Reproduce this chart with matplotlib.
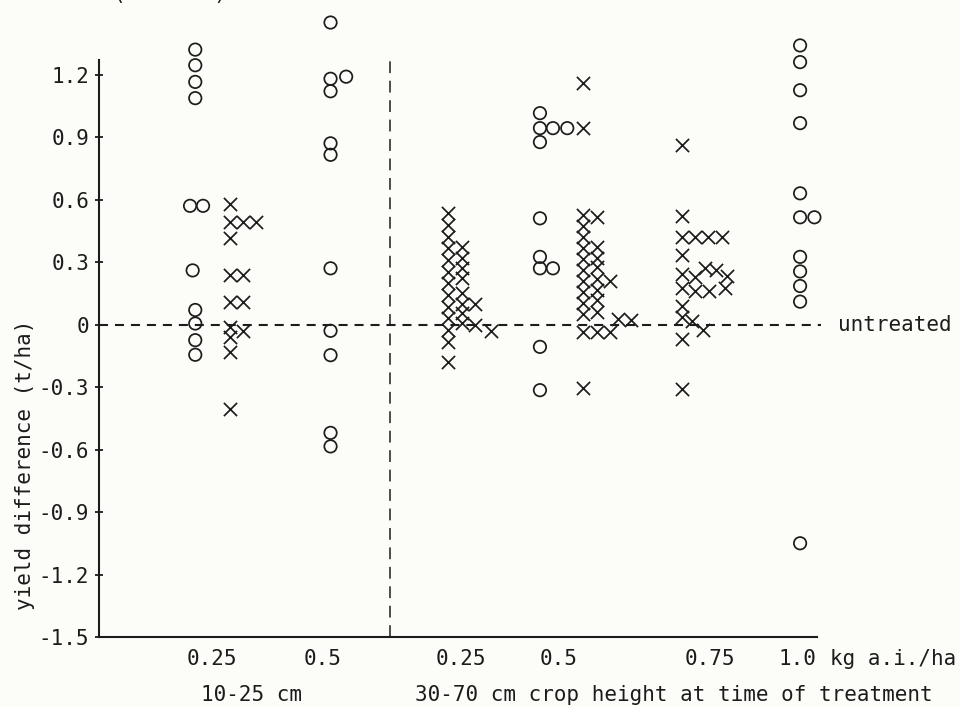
import matplotlib.pyplot as plt

plt.rcParams["font.family"] = ["DejaVu Sans Mono", "DejaVu Sans"]
plt.rcParams["lines.scale_dashes"] = False

INK = "#1c1c1c"
PAPER = "#fcfcf8"

# ---------------------------
# data (x = typewriter column from the y axis, y = yield difference t/ha)
# ---------------------------
circle_pos = [7.4, 7.4, 7.4, 7.4, 7.0, 8.0, 7.2, 7.4, 7.4, 7.4, 7.4,
              17.8, 17.8, 19.0, 17.8, 17.8, 17.8, 17.8, 17.8, 17.8, 17.8, 17.8,
              33.9, 33.9, 33.9, 34.9, 36.0, 33.9, 33.9, 33.9, 34.9, 33.9, 33.9,
              53.9, 53.9, 53.9, 53.9, 53.9, 53.9, 55.0, 53.9, 53.9, 53.9, 53.9, 53.9]
circle_val = [1.32, 1.245, 1.165, 1.087, 0.57, 0.57, 0.26, 0.07, 0.005, -0.075, -0.145,
              1.45, 1.18, 1.19, 1.12, 0.87, 0.815, 0.27, -0.03, -0.147, -0.52, -0.585,
              1.015, 0.943, 0.876, 0.943, 0.943, 0.51, 0.325, 0.27, 0.27, -0.107, -0.315,
              1.34, 1.26, 1.125, 0.967, 0.63, 0.515, 0.515, 0.325, 0.255, 0.185, 0.11, -1.05]

cross_pos = [10.1, 10.1, 11.1, 12.1, 10.1, 10.1, 11.1, 10.1, 11.1, 10.1, 10.1, 11.1, 10.1, 10.1,
             26.8, 26.8, 26.8, 26.8, 26.8, 26.8, 26.8, 26.8, 26.8, 26.8, 26.8, 26.8, 26.8,
             27.9, 27.9, 27.9, 27.9, 27.9, 27.9, 27.9, 27.9, 28.9, 28.9, 30.1,
             37.2, 37.2, 37.2, 37.2, 37.2, 37.2, 37.2, 37.2, 37.2, 37.2, 37.2, 37.2, 37.2,
             37.2, 38.3, 39.3,
             38.3, 38.3, 38.3, 38.3, 38.3, 38.3, 38.3, 38.3, 39.3, 39.9, 40.9,
             44.8, 44.8, 44.8, 45.8, 46.8, 47.9, 44.8, 44.8, 45.8, 46.6, 47.4, 48.3,
             44.8, 45.8, 46.9, 48.1, 44.8, 44.8, 45.6, 46.4, 44.8, 44.8]
cross_val = [0.58, 0.49, 0.49, 0.49, 0.415, 0.238, 0.238, 0.11, 0.11, -0.01, -0.06, -0.03, -0.13, -0.405,
             0.535, 0.478, 0.42, 0.367, 0.31, 0.252, 0.2, 0.142, 0.084, 0.031, -0.026, -0.084, -0.18,
             0.37, 0.32, 0.27, 0.225, 0.15, 0.1, 0.055, 0.007, 0.1, 0.0, -0.03,
             1.16, 0.943, 0.525, 0.473, 0.42, 0.367, 0.315, 0.262, 0.21, 0.157, 0.104, 0.05, -0.305,
             -0.035, -0.035, -0.035,
             0.515, 0.37, 0.32, 0.275, 0.22, 0.165, 0.12, 0.06, 0.21, 0.025, 0.02,
             0.86, 0.52, 0.42, 0.42, 0.42, 0.42, 0.335, 0.245, 0.23, 0.27, 0.26, 0.235,
             0.175, 0.16, 0.16, 0.175, 0.09, 0.035, 0.015, -0.025, -0.07, -0.31]

dose_pos = [8.7, 17.2, 27.8, 35.3, 47.0, 53.7]
dose_labels = ["0.25", "0.5", "0.25", "0.5", "0.75", "1.0"]
height_split = 22.4
y_ticks = [1.2, 0.9, 0.6, 0.3, 0, -0.3, -0.6, -0.9, -1.2, -1.5]
y_ticklabels = ["1.2", "0.9", "0.6", "0.3", "0", "-0.3", "-0.6", "-0.9", "-1.2", "-1.5"]

# ---------------------------
# figure
# ---------------------------
fig = plt.figure(figsize=(9.6, 7.07), dpi=100, facecolor=PAPER)
ax = fig.add_axes([99 / 960, 70 / 707, 718 / 960, 635.3 / 707])
ax.set_facecolor(PAPER)
ax.set_xlim(0, 55.2)
ax.set_ylim(-1.5, 1.55)

for s in ["top", "right"]:
    ax.spines[s].set_visible(False)
ax.spines["left"].set_bounds(-1.5, 1.27)
for s in ["left", "bottom"]:
    ax.spines[s].set_linewidth(1.5)
    ax.spines[s].set_color(INK)

ax.set_yticks(y_ticks)
ax.set_yticklabels(y_ticklabels)
ax.tick_params(axis="y", direction="inout", length=6, width=1.3, pad=4,
               labelsize=15, colors=INK)
ax.set_xticks([])

# untreated line and crop-height divider
ax.plot([0, 55.5], [0, 0], color=INK, lw=1.5, dashes=(6.5, 5), clip_on=False)
ax.plot([height_split, height_split], [-1.5, 1.27], color=INK, lw=1.1,
        dashes=(8.5, 5.5), clip_on=False)
ax.text(56.8, 0, "untreated", fontsize=15, color=INK, va="center", ha="left")

# points
ax.scatter(circle_pos, circle_val, marker="o", s=80, facecolors="none",
           edgecolors=INK, linewidths=1.25, clip_on=False, zorder=3)
ax.scatter(cross_pos, cross_val, marker="x", s=90, color=INK,
           linewidths=1.25, clip_on=False, zorder=3)

# x labels
tr = ax.get_xaxis_transform()
for p, lab in zip(dose_pos, dose_labels):
    ax.text(p, -0.034, lab, transform=tr, ha="center", va="center",
            fontsize=15, color=INK)
ax.text(56.2, -0.034, "kg a.i./ha", transform=tr, ha="left", va="center",
        fontsize=15, color=INK)
ax.text(11.7, -0.092, "10-25 cm", transform=tr, ha="center", va="center",
        fontsize=15, color=INK)
ax.text(24.3, -0.092, "30-70 cm crop height at time of treatment", transform=tr,
        ha="left", va="center", fontsize=15, color=INK)

fig.text(25 / 960, 1 - 465 / 707, "yield difference (t/ha)", rotation=90,
         ha="center", va="center", fontsize=15, color=INK)
# caption line above, cut off by the top edge as in the scan
fig.text(50 / 960, 1.0, "mean (1978-80).", ha="left", va="baseline",
         fontsize=15, color=INK)

fig.savefig("out.png", dpi=100, facecolor=PAPER)
